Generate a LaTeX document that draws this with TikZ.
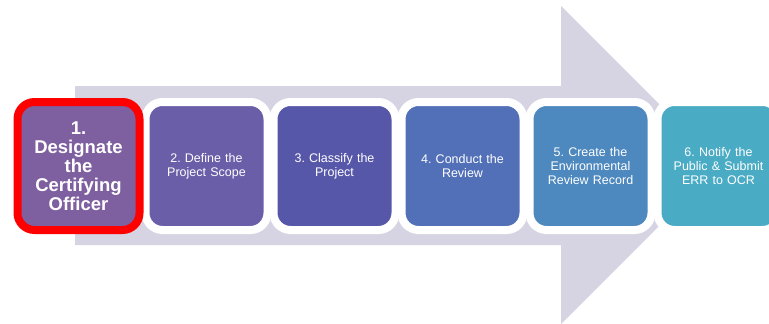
\documentclass[tikz,border=0pt]{standalone}
\usepackage{fontspec}
\setmainfont{Liberation Sans}
\usetikzlibrary{shadows}
\frenchspacing
\definecolor{arrowgray}{HTML}{D6D3E3}
\definecolor{cA}{HTML}{7E5F9F}
\definecolor{cB}{HTML}{6B5EA8}
\definecolor{cC}{HTML}{5757AA}
\definecolor{cD}{HTML}{5270B8}
\definecolor{cE}{HTML}{4D88BE}
\definecolor{cF}{HTML}{4AABC4}
\tikzset{
  stepbox/.style={draw=white, line width=8pt, rounded corners=17pt,
    minimum width=122pt, minimum height=128pt, inner sep=0pt,
    text width=112pt, align=center, text=white,
    font=\fontsize{12.5}{14}\selectfont,
    drop shadow={shadow xshift=1pt, shadow yshift=-3pt, opacity=0.25}},
  activebox/.style={stepbox, draw=red,
    font=\fontsize{18.5}{19}\selectfont\bfseries}
}
\begin{document}
\begin{tikzpicture}[x=1pt,y=-1pt]
  \useasboundingbox (0,0) rectangle (769,324);
  % background process arrow
  \fill[arrowgray] (75,86) -- (561,86) -- (561,6) -- (720,165) -- (561,324)
    -- (561,245) -- (75,245) -- cycle;
  % steps
  \node[stepbox, fill=cB] (s2) at (206.5,166) {2. Define the\\Project Scope};
  \node[stepbox, fill=cC] (s3) at (334.5,166) {3. Classify the\\Project};
  \node[stepbox, fill=cD] (s4) at (462.5,166) {4. Conduct the\\Review};
  \node[stepbox, fill=cE] (s5) at (590.5,166) {5. Create the\\Environmental\\Review Record};
  \node[stepbox, fill=cF] (s6) at (718.5,166) {6. Notify the\\Public \& Submit\\ERR to OCR};
  \node[activebox, fill=cA] (s1) at (78.5,166) {1.\\Designate\\the\\Certifying\\Officer};
\end{tikzpicture}
\end{document}
